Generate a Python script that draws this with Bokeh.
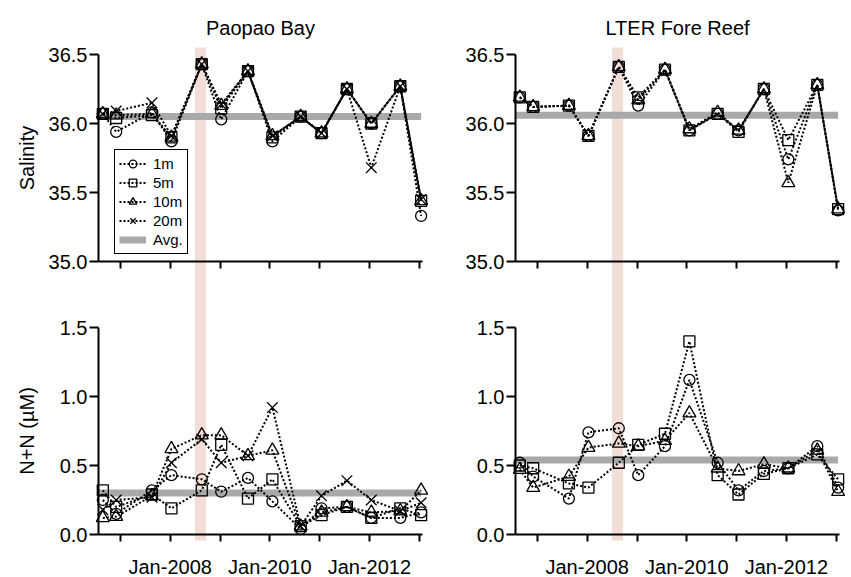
import math
import pandas as pd
from bokeh.plotting import figure
from bokeh.layouts import row
from bokeh.models import (Range1d, LinearAxis, FixedTicker, PrintfTickFormatter,
                          BoxAnnotation, Legend, LegendItem, Label)
from bokeh.embed import file_html
from bokeh.resources import INLINE

# ---------------- data ----------------
dates = ["2006-08-25", "2006-12-01", "2007-08-20", "2008-01-10", "2008-08-20",
         "2009-01-10", "2009-07-25", "2010-01-20", "2010-08-15", "2011-01-15",
         "2011-07-20", "2012-01-15", "2012-08-15", "2013-01-15"]

event_start = "2008-07-01"
event_end = "2008-09-20"

depths = ["1m", "5m", "10m", "20m"]

sal_paopao_1m = [36.07, 35.94, 36.08, 35.87, 36.43, 36.03, 36.38, 35.87, 36.05, 35.93, 36.25, 36.00, 36.27, 35.33]
sal_paopao_5m = [36.07, 36.04, 36.06, 35.90, 36.43, 36.11, 36.38, 35.90, 36.05, 35.93, 36.25, 36.00, 36.27, 35.44]
sal_paopao_10m = [36.07, 36.06, 36.07, 35.90, 36.43, 36.13, 36.38, 35.91, 36.05, 35.93, 36.25, 36.00, 36.27, 35.44]
sal_paopao_20m = [36.07, 36.09, 36.15, 35.91, 36.43, 36.14, 36.38, 35.91, 36.05, 35.93, 36.25, 35.68, 36.27, 35.45]

sal_fore_1m = [36.19, 36.12, 36.13, 35.91, 36.41, 36.13, 36.39, 35.95, 36.07, 35.95, 36.25, 35.74, 36.28, 35.37]
sal_fore_5m = [36.19, 36.12, 36.13, 35.91, 36.41, 36.19, 36.39, 35.95, 36.07, 35.94, 36.25, 35.88, 36.28, 35.38]
sal_fore_10m = [36.19, 36.12, 36.13, 35.91, 36.41, 36.17, 36.39, 35.96, 36.08, 35.95, 36.25, 35.57, 36.28, 35.38]

nn_paopao_1m = [0.25, 0.15, 0.32, 0.43, 0.40, 0.31, 0.41, 0.24, 0.04, 0.19, 0.20, 0.12, 0.12, 0.16]
nn_paopao_5m = [0.32, 0.20, 0.29, 0.19, 0.32, 0.65, 0.26, 0.40, 0.06, 0.14, 0.20, 0.12, 0.19, 0.14]
nn_paopao_10m = [0.12, 0.13, 0.28, 0.62, 0.72, 0.72, 0.57, 0.61, 0.06, 0.16, 0.20, 0.16, 0.17, 0.32]
nn_paopao_20m = [0.18, 0.25, 0.27, 0.52, 0.69, 0.52, 0.57, 0.92, 0.06, 0.28, 0.39, 0.25, 0.17, 0.23]

nn_fore_1m = [0.52, 0.42, 0.26, 0.74, 0.77, 0.43, 0.64, 1.12, 0.52, 0.32, 0.46, 0.48, 0.64, 0.34]
nn_fore_5m = [0.50, 0.48, 0.37, 0.34, 0.52, 0.65, 0.73, 1.40, 0.43, 0.29, 0.44, 0.48, 0.58, 0.40]
nn_fore_10m = [0.47, 0.34, 0.42, 0.63, 0.66, 0.64, 0.68, 0.88, 0.48, 0.46, 0.51, 0.48, 0.61, 0.31]

sal_avg_paopao = 36.05
sal_avg_fore = 36.06
nn_avg_paopao = 0.30
nn_avg_fore = 0.54

year_ticks = [2007, 2008, 2009, 2010, 2011, 2012, 2013]
year_labels = ["", "Jan-2008", "", "Jan-2010", "", "Jan-2012", ""]
sal_ticks = [35.0, 35.5, 36.0, 36.5]
nn_ticks = [0.0, 0.5, 1.0, 1.5]

# ---------------- helpers ----------------
def dec_year(s):
    t = pd.Timestamp(s)
    a = pd.Timestamp(year=t.year, month=1, day=1)
    b = pd.Timestamp(year=t.year + 1, month=1, day=1)
    return t.year + (t - a) / (b - a)

xs = [dec_year(d) for d in dates]
ev0, ev1 = dec_year(event_start), dec_year(event_end)

FONT = "Liberation Sans"
PX_PER_YR = 49.8
AXIS_START = 2006.56
AXIS_END = AXIS_START + 324 / PX_PER_YR

H = 577
PX_PER_UNIT = 138.0
SAL_TOP = 36.5 + 54 / PX_PER_UNIT          # 36.5 sits 54 px from the top
SAL_BOT = SAL_TOP - H / PX_PER_UNIT
NN_BOT = -(H - 534) / PX_PER_UNIT           # 0.0 sits at 534 px
NN_TOP = NN_BOT + H / PX_PER_UNIT


def sal_at(px):
    return SAL_TOP - px / PX_PER_UNIT

MARKERS = {"1m": "circle", "5m": "square", "10m": "triangle", "20m": "x"}
MSIZE = {"1m": 11, "5m": 11, "10m": 13, "20m": 15}


def style_axis(ax, ylike):
    ax.axis_line_width = 2
    ax.axis_line_color = "black"
    ax.major_tick_line_width = 2
    ax.major_tick_line_color = "black"
    ax.major_tick_in = 0
    ax.major_tick_out = 9 if ylike else 7
    ax.minor_tick_in = 0
    ax.minor_tick_out = 0
    ax.major_label_text_font = FONT
    ax.major_label_text_font_size = "20px"
    ax.major_label_text_color = "black"
    ax.major_label_standoff = 2 if ylike else 14


def make_panel(title, width, axis_px, sal, nn, sal_avg, nn_avg, labels, legend):
    x0 = AXIS_START - axis_px / PX_PER_YR
    x1 = x0 + width / PX_PER_YR
    p = figure(width=width, height=H, x_range=Range1d(x0, x1),
               y_range=Range1d(NN_BOT, NN_TOP), output_backend="svg",
               toolbar_location=None, x_axis_type=None, y_axis_type=None,
               min_border=0, min_border_left=0, min_border_right=0,
               min_border_top=0, min_border_bottom=0)
    p.extra_y_ranges = {"sal": Range1d(SAL_BOT, SAL_TOP)}
    p.outline_line_color = None
    p.background_fill_color = "white"
    p.border_fill_color = "white"

    p.add_layout(BoxAnnotation(left=ev0, right=ev1, top=sal_at(47), bottom=sal_at(540),
                               y_range_name="sal", fill_color="#f3ddd7", fill_alpha=1.0,
                               line_color=None, level="underlay"))

    # axes
    ysal = LinearAxis(y_range_name="sal", fixed_location=AXIS_START, bounds=(35.0, 36.5),
                      ticker=FixedTicker(ticks=sal_ticks), formatter=PrintfTickFormatter(format="%.1f"))
    style_axis(ysal, True)
    p.add_layout(ysal, "left")
    ynn = LinearAxis(fixed_location=AXIS_START, bounds=(0.0, 1.5),
                     ticker=FixedTicker(ticks=nn_ticks), formatter=PrintfTickFormatter(format="%.1f"))
    style_axis(ynn, True)
    p.add_layout(ynn, "left")
    xsal = LinearAxis(y_range_name="sal", fixed_location=35.0, bounds=(AXIS_START, AXIS_END),
                      ticker=FixedTicker(ticks=year_ticks),
                      major_label_overrides={y: "" for y in year_ticks})
    style_axis(xsal, False)
    p.add_layout(xsal, "below")
    xnn = LinearAxis(fixed_location=0.0, bounds=(AXIS_START, AXIS_END),
                     ticker=FixedTicker(ticks=year_ticks),
                     major_label_overrides=dict(zip(year_ticks, year_labels)))
    style_axis(xnn, False)
    p.add_layout(xnn, "below")

    # averages
    avg_r = p.line(x=[AXIS_START, xs[-1]], y=[sal_avg, sal_avg], y_range_name="sal",
                   line_color="#a9a9a9", line_width=7)
    p.line(x=[AXIS_START, xs[-1]], y=[nn_avg, nn_avg], line_color="#a9a9a9", line_width=7)

    items = []
    for d in depths:
        if d not in sal:
            continue
        l1 = p.line(xs, sal[d], y_range_name="sal", line_color="black", line_width=2, line_dash="2 2")
        s1 = p.scatter(xs, sal[d], y_range_name="sal", marker=MARKERS[d], size=MSIZE[d],
                       fill_color=None, line_color="black", line_width=1.3)
        p.line(xs, nn[d], line_color="black", line_width=2, line_dash="2 2")
        p.scatter(xs, nn[d], marker=MARKERS[d], size=MSIZE[d], fill_color=None,
                  line_color="black", line_width=1.3)
        items.append(LegendItem(label=d, renderers=[l1, s1]))
    items.append(LegendItem(label="Avg.", renderers=[avg_r]))

    if legend:
        lg = Legend(items=items, location=(114, H - 254), border_line_color="black",
                    border_line_width=1.5, border_line_alpha=1.0, background_fill_alpha=1.0,
                    label_text_font=FONT, label_text_font_size="15px", label_text_color="black",
                    glyph_width=27, glyph_height=19, label_height=15,
                    label_standoff=7, spacing=0, padding=4, margin=0)
        p.add_layout(lg)

    # panel title
    p.add_layout(Label(x=(AXIS_START + AXIS_END) / 2, y=sal_at(27), y_range_name="sal",
                       text=title, text_align="center", text_baseline="alphabetic",
                       text_font=FONT, text_font_size="20px", text_color="black"))

    if labels:
        lx = x0 + 26 / PX_PER_YR
        p.add_layout(Label(x=lx, y=35.75, y_range_name="sal", text="Salinity",
                           angle=math.pi / 2, text_align="center", text_baseline="middle",
                           text_font=FONT, text_font_size="20px", text_color="black"))
        p.add_layout(Label(x=lx, y=0.75, text="N+N (µM)",
                           angle=math.pi / 2, text_align="center", text_baseline="middle",
                           text_font=FONT, text_font_size="20px", text_color="black"))
    return p


p1 = make_panel("Paopao Bay", 450, 98,
                {"1m": sal_paopao_1m, "5m": sal_paopao_5m, "10m": sal_paopao_10m, "20m": sal_paopao_20m},
                {"1m": nn_paopao_1m, "5m": nn_paopao_5m, "10m": nn_paopao_10m, "20m": nn_paopao_20m},
                sal_avg_paopao, nn_avg_paopao, True, True)
p2 = make_panel("LTER Fore Reef", 401, 65,
                {"1m": sal_fore_1m, "5m": sal_fore_5m, "10m": sal_fore_10m},
                {"1m": nn_fore_1m, "5m": nn_fore_5m, "10m": nn_fore_10m},
                sal_avg_fore, nn_avg_fore, False, False)

layout = row(p1, p2)
open("out.html", "w").write(file_html(layout, INLINE))
